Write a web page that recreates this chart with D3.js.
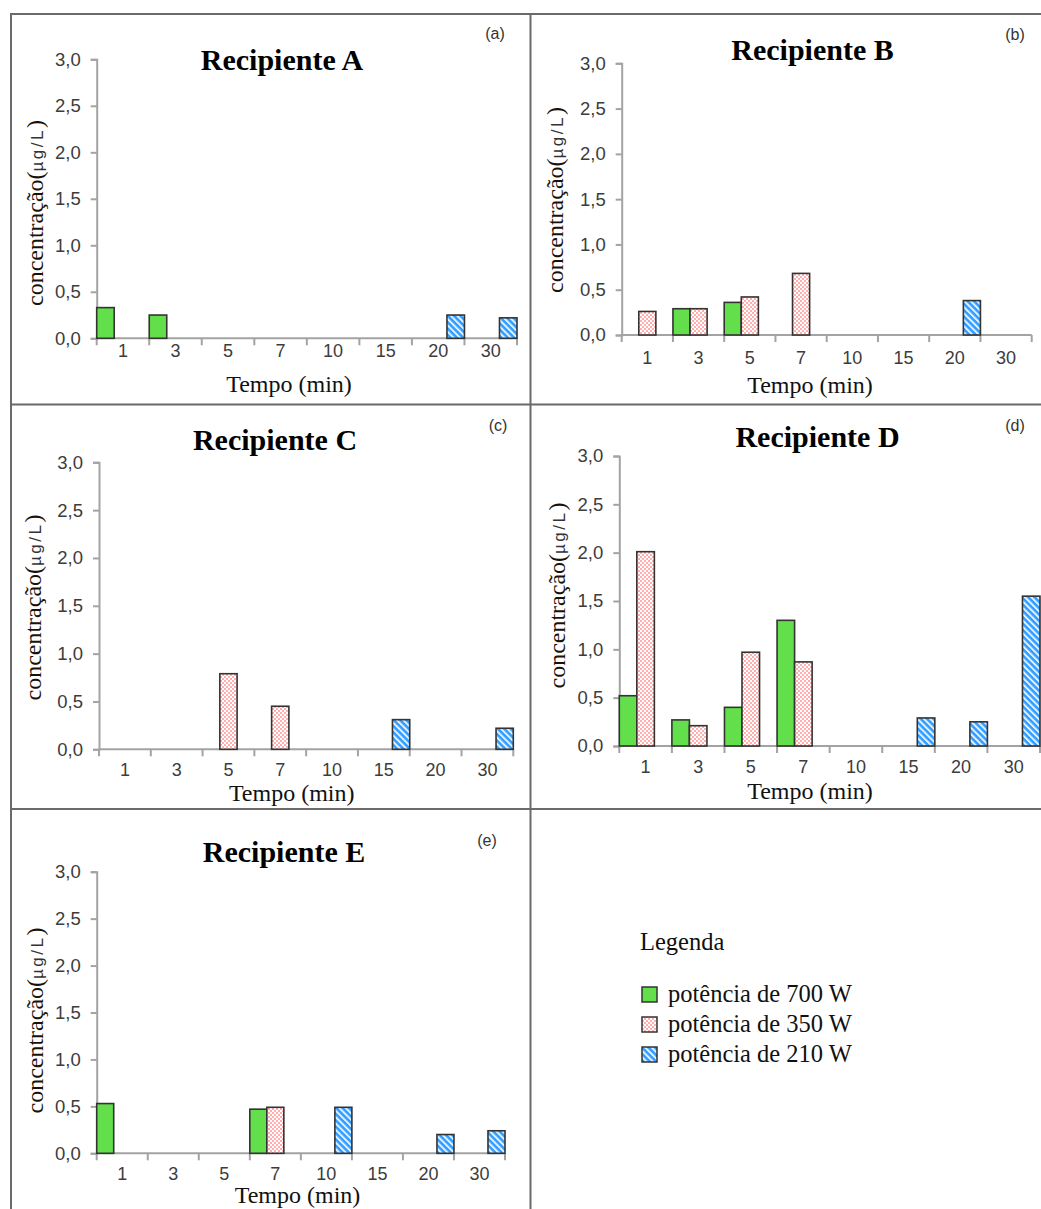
<!DOCTYPE html>
<html>
<head>
<meta charset="utf-8">
<script src="https://cdn.jsdelivr.net/npm/d3@7"></script>
<style>
  html, body { margin: 0; padding: 0; background: #fff; }
  svg { display: block; }
</style>
</head>
<body>
<svg id="chart" width="1041" height="1209"></svg>
<script>
// Tempo (min) categories shared by every panel
const categories = ["1", "3", "5", "7", "10", "15", "20", "30"];
const seriesNames = ["potência de 700 W", "potência de 350 W", "potência de 210 W"];
const yTicks = [0, 0.5, 1.0, 1.5, 2.0, 2.5, 3.0];

// Concentração (µg/L) per panel and power; null = not detected
const recipA_700 = [0.33, 0.25, null, null, null, null, null, null];
const recipA_350 = [null, null, null, null, null, null, null, null];
const recipA_210 = [null, null, null, null, null, null, 0.25, 0.22];

const recipB_700 = [null, 0.29, 0.36, null, null, null, null, null];
const recipB_350 = [0.26, 0.29, 0.42, 0.68, null, null, null, null];
const recipB_210 = [null, null, null, null, null, null, 0.38, null];

const recipC_700 = [null, null, null, null, null, null, null, null];
const recipC_350 = [null, null, 0.79, 0.45, null, null, null, null];
const recipC_210 = [null, null, null, null, null, 0.31, null, 0.22];

const recipD_700 = [0.52, 0.27, 0.40, 1.30, null, null, null, null];
const recipD_350 = [2.01, 0.21, 0.97, 0.87, null, null, null, null];
const recipD_210 = [null, null, null, null, null, 0.29, 0.25, 1.55];

const recipE_700 = [0.53, null, null, 0.47, null, null, null, null];
const recipE_350 = [null, null, null, 0.49, null, null, null, null];
const recipE_210 = [null, null, null, null, 0.49, null, 0.20, 0.24];

const panelTitles = ["Recipiente A", "Recipiente B", "Recipiente C", "Recipiente D", "Recipiente E"];
const panelTags = ["(a)", "(b)", "(c)", "(d)", "(e)"];
const panelValues = [
  [recipA_700, recipA_350, recipA_210],
  [recipB_700, recipB_350, recipB_210],
  [recipC_700, recipC_350, recipC_210],
  [recipD_700, recipD_350, recipD_210],
  [recipE_700, recipE_350, recipE_210]
];

// Geometry of each panel's plotting area and its labels
const layout = [
  { l: 96.7, r: 517, t: 59.3, b: 338.3, tx: 282, ty: 70, gx: 495, gy: 39, ylx: 35, yly: 213, xtb: 357, xlx: 289, xly: 392 },
  { l: 621.7, r: 1031.7, t: 63.3, b: 335, tx: 812.5, ty: 60, gx: 1015, gy: 40, ylx: 555, yly: 200, xtb: 364, xlx: 810, xly: 393 },
  { l: 99, r: 513.3, t: 462.3, b: 749.3, tx: 275, ty: 450, gx: 498, gy: 431, ylx: 33, yly: 607.5, xtb: 776, xlx: 291.7, xly: 801 },
  { l: 619.3, r: 1040, t: 456, b: 746, tx: 817.5, ty: 446.7, gx: 1015, gy: 431, ylx: 556.7, yly: 595.5, xtb: 773, xlx: 810, xly: 799 },
  { l: 96.7, r: 505, t: 871.7, b: 1153.3, tx: 284, ty: 861.7, gx: 487, gy: 846, ylx: 35, yly: 1020.5, xtb: 1180, xlx: 297.5, xly: 1203 }
];

const svg = d3.select("#chart");
const defs = svg.append("defs");

// Fill patterns: solid green, pink dot grid, blue diagonal hatch
const pink = defs.append("pattern").attr("id", "dots").attr("patternUnits", "userSpaceOnUse")
  .attr("width", 4).attr("height", 4);
pink.append("rect").attr("width", 4).attr("height", 4).attr("fill", "#ffffff");
pink.append("rect").attr("width", 2).attr("height", 2).attr("fill", "#ffadad");
pink.append("rect").attr("x", 2).attr("y", 2).attr("width", 2).attr("height", 2).attr("fill", "#ffadad");

const hatch = defs.append("pattern").attr("id", "hatch").attr("patternUnits", "userSpaceOnUse")
  .attr("width", 4.5).attr("height", 4.5).attr("patternTransform", "rotate(-45)");
hatch.append("rect").attr("width", 4.5).attr("height", 4.5).attr("fill", "#2f9cff");
hatch.append("rect").attr("width", 2).attr("height", 4.5).attr("fill", "#e2f1ff");

const fills = ["#63df4c", "url(#dots)", "url(#hatch)"];

// Panel frame lines
const frame = svg.append("g").attr("stroke", "#6a6a6a").attr("stroke-width", 2).attr("fill", "none");
frame.append("line").attr("x1", 10).attr("x2", 1041).attr("y1", 14).attr("y2", 14);
frame.append("line").attr("x1", 11).attr("x2", 11).attr("y1", 13).attr("y2", 1209);
frame.append("line").attr("x1", 530.5).attr("x2", 530.5).attr("y1", 13).attr("y2", 1209);
frame.append("line").attr("x1", 10).attr("x2", 1041).attr("y1", 404.5).attr("y2", 404.5);
frame.append("line").attr("x1", 10).attr("x2", 1041).attr("y1", 809).attr("y2", 809);

panelValues.forEach((vals, p) => {
  const L = layout[p];
  const g = svg.append("g");

  const x = d3.scaleBand().domain(categories).range([L.l, L.r]).paddingInner(0).paddingOuter(0);
  const xs = d3.scaleBand().domain([0, 1, 2]).range([0, x.bandwidth()]).padding(0);
  const y = d3.scaleLinear().domain([0, 3]).range([L.b, L.t]);

  // y axis
  const ya = g.append("g").attr("transform", `translate(${L.l},0)`)
    .call(d3.axisLeft(y).tickValues(yTicks).tickSize(6).tickPadding(10)
      .tickFormat(d => d3.format(".1f")(d).replace(".", ",")));
  ya.select(".domain").attr("stroke", "#a3a3a3").attr("stroke-width", 2);
  ya.selectAll(".tick line").attr("stroke", "#a3a3a3").attr("stroke-width", 2);
  ya.selectAll(".tick text").attr("font-family", "'Liberation Sans', Arial, sans-serif")
    .attr("font-size", 18.5).attr("fill", "#3c3c3c");

  // x axis: labels centred in each band, ticks on band boundaries
  const xa = g.append("g").attr("transform", `translate(0,${L.b})`)
    .call(d3.axisBottom(x).tickSize(0).tickPadding(0));
  xa.select(".domain").remove();
  xa.selectAll(".tick text").attr("font-family", "'Liberation Sans', Arial, sans-serif")
    .attr("font-size", 18).attr("fill", "#3c3c3c").attr("dy", null)
    .attr("y", L.xtb - L.b);
  const bounds = categories.map(c => x(c)).concat([x.range()[1]]);
  g.append("line").attr("x1", L.l).attr("x2", L.r).attr("y1", L.b).attr("y2", L.b)
    .attr("stroke", "#a3a3a3").attr("stroke-width", 2);
  g.selectAll("line.xt").data(bounds).join("line").attr("class", "xt")
    .attr("x1", d => d).attr("x2", d => d).attr("y1", L.b).attr("y2", L.b + 7)
    .attr("stroke", "#a3a3a3").attr("stroke-width", 2);

  // bars
  vals.forEach((arr, s) => {
    const rows = categories.map((c, i) => ({ c, v: arr[i] })).filter(d => d.v != null);
    g.selectAll(`rect.s${s}`).data(rows).join("rect").attr("class", `s${s}`)
      .attr("x", d => x(d.c) + xs(s))
      .attr("width", xs.bandwidth())
      .attr("y", d => y(d.v))
      .attr("height", d => y(0) - y(d.v))
      .attr("fill", fills[s])
      .attr("stroke", "#333")
      .attr("stroke-width", 1.6);
  });

  // titles and labels
  g.append("text").attr("x", L.tx).attr("y", L.ty).attr("text-anchor", "middle")
    .attr("font-family", "'Liberation Serif', 'Times New Roman', serif")
    .attr("font-weight", "bold").attr("font-size", 30).attr("fill", "#000")
    .text(panelTitles[p]);

  g.append("text").attr("x", L.gx).attr("y", L.gy).attr("text-anchor", "middle")
    .attr("font-family", "'Liberation Sans', Arial, sans-serif")
    .attr("font-size", 16).attr("fill", "#333").text(panelTags[p]);

  const yl = g.append("text")
    .attr("transform", `translate(${L.ylx},${L.yly}) rotate(-90)`)
    .attr("text-anchor", "middle").attr("dy", "0.35em")
    .attr("font-family", "'Liberation Serif', 'Times New Roman', serif")
    .attr("font-size", 24).attr("fill", "#1a1208");
  yl.append("tspan").text("concentração(");
  yl.append("tspan").attr("font-family", "'Liberation Sans', Arial, sans-serif")
    .attr("font-size", 17).attr("letter-spacing", 2.5).attr("fill", "#333").text("µg/L");
  yl.append("tspan").text(")");

  g.append("text").attr("x", L.xlx).attr("y", L.xly).attr("text-anchor", "middle")
    .attr("font-family", "'Liberation Serif', 'Times New Roman', serif")
    .attr("font-size", 24).attr("fill", "#111").text("Tempo (min)");
});

// Legend
const lg = svg.append("g").attr("font-family", "'Liberation Serif', 'Times New Roman', serif")
  .attr("font-size", 24.5).attr("fill", "#111");
lg.append("text").attr("x", 640).attr("y", 950).text("Legenda");
const items = lg.selectAll("g.item").data(seriesNames).join("g").attr("class", "item")
  .attr("transform", (d, i) => `translate(0,${i * 30})`);
items.append("rect").attr("x", 642).attr("y", 987).attr("width", 15).attr("height", 15)
  .attr("fill", (d, i) => fills[i]).attr("stroke", "#333").attr("stroke-width", 1.5);
items.append("text").attr("x", 668).attr("y", 1002).text(d => d);
</script>
</body>
</html>
